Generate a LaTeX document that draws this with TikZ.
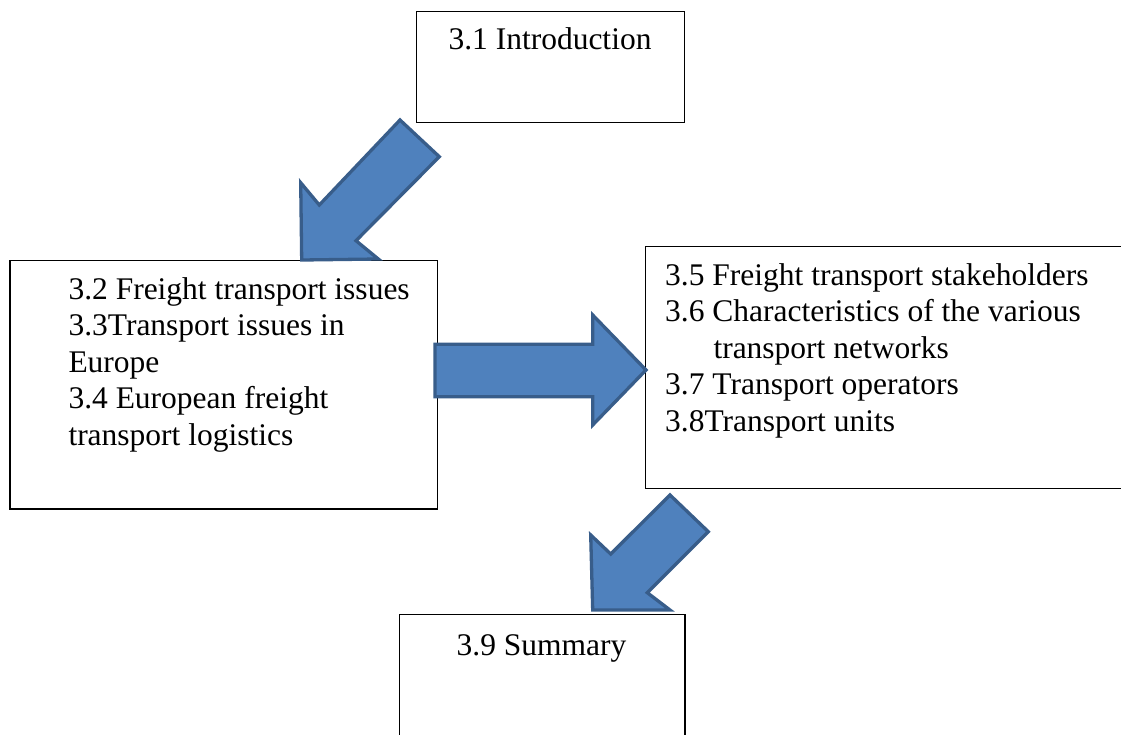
\documentclass[tikz,border=0pt]{standalone}
\usepackage{fontspec}
\setmainfont{Liberation Serif}
\definecolor{arrowfill}{HTML}{4F81BD}
\definecolor{arrowline}{HTML}{385D8A}
\begin{document}
\begin{tikzpicture}[x=1pt,y=-1pt,
  box/.style={draw=black, line width=1.2pt, inner sep=0pt, anchor=north west},
  txt/.style={anchor=base west, inner sep=0pt, font=\fontsize{31.5}{36.5}\selectfont},
  ctxt/.style={anchor=base, inner sep=0pt, font=\fontsize{31.5}{36.5}\selectfont},
  blockarrow/.style={fill=arrowfill, draw=arrowline, line width=3.3pt, line join=miter}]
\clip (0,0) rectangle (1121,734);
\fill[white] (0,0) rectangle (1121,734);

% boxes
\node[box, minimum width=268pt, minimum height=111pt] (intro) at (416,10.7) {};
\node[box, minimum width=427.4pt, minimum height=248.3pt] (issues) at (9.3,260) {};
\node[box, minimum width=490pt, minimum height=242pt] (stake) at (645,245.7) {};
\node[box, minimum width=285.3pt, minimum height=140pt] (summary) at (399,613.7) {};

% texts
\node[ctxt] (tintro) at (550,49) {3.1 Introduction};
\node[ctxt] (tsum) at (541.5,655) {3.9 Summary};

\node[txt] (t32) at (68.3,299.3) {3.2 Freight transport issues};
\node[txt] (t33) at (68.3,335.8) {3.3Transport issues in};
\node[txt] (t33b) at (68.3,372.3) {Europe};
\node[txt] (t34) at (68.3,408.8) {3.4 European freight};
\node[txt] (t34b) at (68.3,445.3) {transport logistics};

\node[txt] (t35) at (665,285) {3.5 Freight transport stakeholders};
\node[txt] (t36) at (665,321.6) {3.6 Characteristics of the various};
\node[txt] (t36b) at (713.3,358.2) {transport networks};
\node[txt] (t37) at (665,394.8) {3.7 Transport operators};
\node[txt] (t38) at (665,431.4) {3.8Transport units};

% block arrows
\draw[blockarrow] (400,120) -- (439.3,156.7) -- (356,240.7) -- (378.3,259) -- (301.7,260) -- (300.7,182.7) -- (319.3,205) -- cycle;
\draw[blockarrow] (435,344.3) -- (592.7,344.3) -- (592.7,315) -- (646,370) -- (592.7,425) -- (592.7,396.7) -- (435,396.7) -- cycle;
\draw[blockarrow] (670,495) -- (708.3,531.7) -- (647.3,592.7) -- (670,610) -- (592.7,610) -- (590.7,535) -- (610.7,554) -- cycle;
\end{tikzpicture}
\end{document}
